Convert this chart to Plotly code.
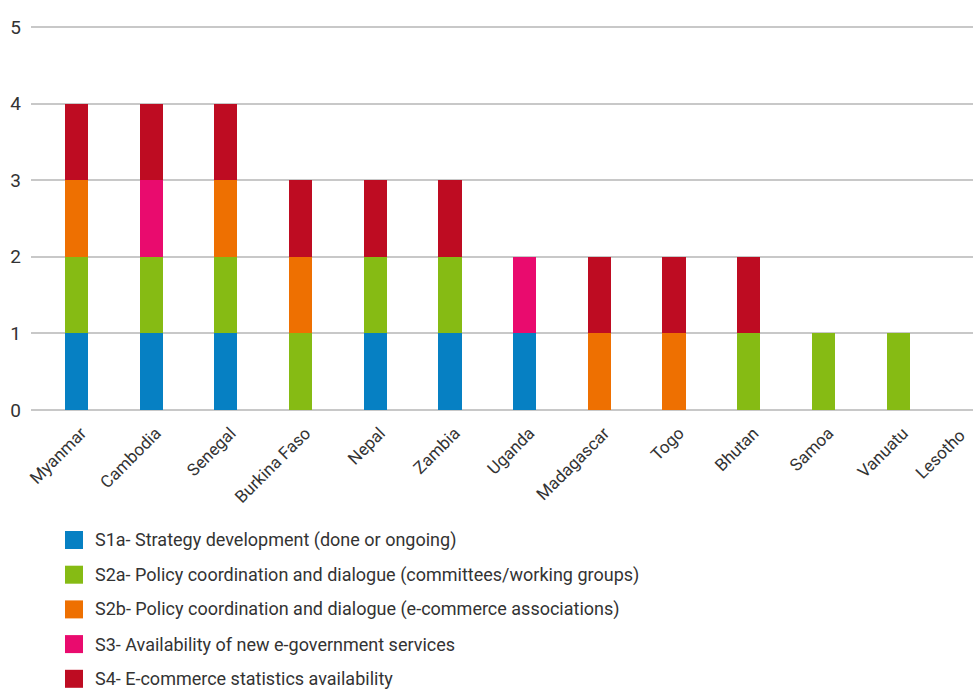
import plotly.graph_objects as go

# Countries (x categories)
countries = ["Myanmar", "Cambodia", "Senegal", "Burkina Faso", "Nepal", "Zambia",
             "Uganda", "Madagascar", "Togo", "Bhutan", "Samoa", "Vanuatu", "Lesotho"]

# Indicator series (1 = indicator met)
s1a = [1, 1, 1, 0, 1, 1, 1, 0, 0, 0, 0, 0, 0]
s2a = [1, 1, 1, 1, 1, 1, 0, 0, 0, 1, 1, 1, 0]
s2b = [1, 0, 1, 1, 0, 0, 0, 1, 1, 0, 0, 0, 0]
s3 = [0, 1, 0, 0, 0, 0, 1, 0, 0, 0, 0, 0, 0]
s4 = [1, 1, 1, 1, 1, 1, 0, 1, 1, 1, 0, 0, 0]

series_names = [
    "S1a- Strategy development (done or ongoing)",
    "S2a- Policy coordination and dialogue (committees/working groups)",
    "S2b- Policy coordination and dialogue (e-commerce associations)",
    "S3- Availability of new e-government services",
    "S4- E-commerce statistics availability",
]
series_values = [s1a, s2a, s2b, s3, s4]
series_colors = ["#0680C3", "#86BB14", "#EE7001", "#E90B6E", "#BE0C22"]

y_ticks = [0, 1, 2, 3, 4, 5]

FONT = "Liberation Sans Narrow, Arial Narrow, Roboto, sans-serif"
TEXT = "#333333"

W, H = 973, 689
ML, MR, MT, MB = 31, 0, 24, 279
PW, PH = W - ML - MR, H - MT - MB
Y_TOP = 5.04  # a little headroom so the top gridline is drawn


def px_x(px):
    return (px - ML) / PW


def px_y(py):
    return (H - MB - py) / PH


fig = go.Figure()
for name, vals, col in zip(series_names, series_values, series_colors):
    fig.add_trace(go.Bar(
        x=countries, y=vals, name=name, marker=dict(color=col, line=dict(width=0)),
        width=0.31, showlegend=False,
    ))

# Legend drawn as colour swatches with labels below the plot
shapes = []
annotations = []
for i, (name, col) in enumerate(zip(series_names, series_colors)):
    cy = 540 + 34.7 * i
    shapes.append(dict(
        type="rect", xref="paper", yref="paper",
        x0=px_x(65), x1=px_x(83), y0=px_y(cy - 9), y1=px_y(cy + 9),
        fillcolor=col, line=dict(width=0),
    ))
    annotations.append(dict(
        text=name, xref="paper", yref="paper", x=px_x(93), y=px_y(cy),
        xanchor="left", yanchor="middle", showarrow=False,
        font=dict(family=FONT, size=18, color=TEXT),
    ))

# The last category sits on the right edge, so its label is pulled inside
annotations.append(dict(
    text=countries[-1], xref="x", yref="paper", x=countries[-1], y=px_y(423),
    xanchor="right", yanchor="top", xshift=-1, textangle=-45, showarrow=False,
    font=dict(family=FONT, size=17, color=TEXT),
))

fig.update_layout(
    width=W, height=H,
    margin=dict(l=ML, r=MR, t=MT, b=MB, autoexpand=False),
    barmode="stack",
    plot_bgcolor="white", paper_bgcolor="white",
    font=dict(family=FONT, color=TEXT),
    shapes=shapes, annotations=annotations,
    showlegend=False,
)
fig.update_xaxes(
    type="category", range=[-0.608, 12.002], automargin=False,
    tickvals=countries[:-1],
    showgrid=False, showline=False, zeroline=False,
    tickangle=-45, tickfont=dict(family=FONT, size=17, color=TEXT),
    ticks="", ticklabelstandoff=9, ticklabelshift=5,
)
fig.update_yaxes(
    range=[0, Y_TOP], tickvals=y_ticks, automargin=False,
    showgrid=True, gridcolor="#C8C8C8", gridwidth=2,
    zeroline=True, zerolinecolor="#C8C8C8", zerolinewidth=2,
    showline=False, ticks="", ticklabelstandoff=9,
    tickfont=dict(family=FONT, size=19, color=TEXT),
)

fig.write_html("out.html")
